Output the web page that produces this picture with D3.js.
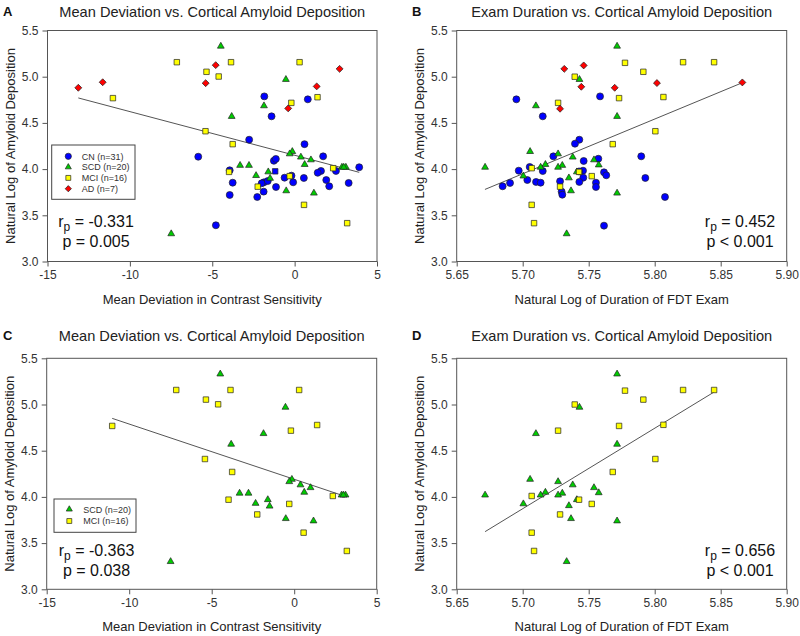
<!DOCTYPE html>
<html>
<head>
<meta charset="utf-8">
<script src="https://cdn.jsdelivr.net/npm/d3@7/dist/d3.min.js"></script>
<style>
html,body{margin:0;padding:0;background:#fff;}
svg{display:block;}
text{font-family:"Liberation Sans",Arial,sans-serif;}
</style>
</head>
<body>
<svg id="chart" width="800" height="636"></svg>
<script>
// ---------- DATA ----------
const groups = ["CN (n=31)", "SCD (n=20)", "MCI (n=16)", "AD (n=7)"];
const yTicks = [3.0, 3.5, 4.0, 4.5, 5.0, 5.5];
const mdTicks = [-15, -10, -5, 0, 5];
const durTicks = [5.65, 5.70, 5.75, 5.80, 5.85, 5.90];

// Mean deviation (x) vs ln amyloid (y)
const cnMD = [[-1.84,4.787],[-1.40,4.571],[0.80,4.755],[-2.76,4.318],[0.60,4.27],[1.73,4.138],
  [-1.26,4.09],[-1.14,4.11],[-5.85,4.134],[3.92,4.02],[-3.94,3.987],[1.60,3.98],[1.40,3.96],
  [2.51,3.98],[-0.61,3.907],[-0.19,3.929],[0.56,3.904],[-3.76,3.853],[-1.86,3.857],
  [-2.0,3.846],[-1.63,3.871],[-1.13,3.806],[-0.09,3.857],[1.92,3.882],[2.10,3.814],[3.28,3.85],
  [-3.94,3.72],[-2.27,3.698],[-1.88,3.756],[-4.78,3.392]];
const cnMDSquare = [[-1.18,3.976]];
const scdMD = [[-4.48,5.33],[-0.53,4.97],[-1.86,4.685],[-3.82,4.57],[-0.14,4.19],[-0.30,4.165],
  [0.38,4.13],[0.99,4.10],[-3.31,4.04],[-2.77,4.04],[0.61,4.05],[2.87,4.02],[3.11,4.02],[2.98,4.02],
  [-1.60,3.97],[-2.34,3.93],[-1.49,3.90],[-0.51,3.765],[1.17,3.74],[-7.49,3.30]];
const mciMD = [[-7.15,5.157],[-3.86,5.157],[0.30,5.157],[-5.35,5.053],[-4.61,5.002],[-11.03,4.768],
  [1.39,4.778],[-0.20,4.717],[-5.41,4.41],[-3.76,4.27],[-3.98,3.97],[2.34,4.01],[-0.30,3.924],
  [-2.24,3.81],[0.57,3.613],[3.19,3.415]];
const adMD = [[-13.13,4.88],[-11.65,4.94],[-5.40,4.93],[-4.79,5.125],[-0.39,4.657],[1.34,4.895],[2.73,5.085]];

// ln duration of FDT exam (x) vs ln amyloid (y)
const cnDur = [[5.6952,4.755],[5.7152,4.571],[5.7429,4.318],[5.7396,4.275],[5.7232,4.138],[5.7462,4.088],
  [5.7586,4.787],[5.7898,4.138],[5.7573,4.112],[5.6970,3.983],[5.7053,4.023],[5.7152,3.979],
  [5.7457,3.983],[5.7427,3.975],[5.7616,3.965],[5.7633,3.933],[5.6848,3.814],[5.6904,3.85],[5.7035,3.882],
  [5.7101,3.861],[5.7136,3.853],[5.7283,3.868],[5.7459,3.907],[5.7429,3.861],[5.7555,3.853],
  [5.7555,3.806],[5.7295,3.756],[5.7300,3.723],[5.7616,3.388],[5.7929,3.904],[5.8078,3.698]];
const scdDur = [[5.7715,5.33],[5.743,4.97],[5.710,4.685],[5.7715,4.57],[5.7056,4.19],[5.7268,4.165],
  [5.7379,4.13],[5.754,4.10],[5.7576,4.045],[5.7172,4.05],[5.7136,4.02],[5.730,4.04],[5.7268,4.02],
  [5.6715,4.02],[5.741,3.97],[5.735,3.905],[5.7005,3.925],[5.7366,3.765],[5.7715,3.74],[5.7333,3.30]];
const mciDur = [[5.8215,5.157],[5.845,5.157],[5.7775,5.15],[5.7914,5.053],[5.7394,5.0],[5.773,4.768],
  [5.8066,4.78],[5.7268,4.717],[5.8005,4.41],[5.7682,4.27],[5.7427,3.97],[5.7068,4.01],[5.7523,3.924],
  [5.7283,3.81],[5.7068,3.613],[5.7086,3.415]];
const adDur = [[5.7315,5.085],[5.7462,5.122],[5.7444,4.891],[5.7283,4.653],[5.7697,4.88],[5.8017,4.931],[5.8664,4.938]];

// regression lines (end points)
const fitA = [[-13.13,4.77],[3.92,3.965]];
const fitB = [[5.6714,3.78],[5.8664,4.935]];
const fitC = [[-11.03,4.85],[3.19,4.0]];
const fitD = [[5.6715,3.624],[5.845,5.135]];

const statsA = ["-0.331", "p = 0.005"];
const statsB = ["0.452", "p < 0.001"];
const statsC = ["-0.363", "p = 0.038"];
const statsD = ["0.656", "p < 0.001"];

// ---------- STYLE ----------
const styles = {
  CN:  {fill:"#0000ff", sym:d3.symbolCircle, size:38},
  CNs: {fill:"#0000ff", sym:d3.symbolSquare, size:30},
  SCD: {fill:"#00cc00", sym:d3.symbolTriangle, size:20},
  MCI: {fill:"#ffff00", sym:d3.symbolSquare, size:30},
  AD:  {fill:"#ff0000", sym:d3.symbolSquare, size:24, rot:45}
};

const svg = d3.select("#chart");
svg.append("rect").attr("width",800).attr("height",636).attr("fill","#fff");

const fmtNum = d => (d < 0 ? "-" : "") + Math.abs(d).toString();

function panel(p) {
  const x = d3.scaleLinear().domain(p.xDomain).range([p.left, p.right]);
  const y = d3.scaleLinear().domain([3.0, 5.5]).range([p.bottom, p.top]);
  const g = svg.append("g");

  // axes
  const ax = g.append("g").attr("transform", `translate(0,${p.bottom})`)
    .call(d3.axisBottom(x).tickValues(p.xTicks).tickFormat(p.xFmt).tickSize(5).tickSizeOuter(0).tickPadding(4));
  const ay = g.append("g").attr("transform", `translate(${p.left},0)`)
    .call(d3.axisLeft(y).tickValues(yTicks).tickFormat(d3.format(".1f")).tickSize(5).tickSizeOuter(0).tickPadding(4));
  [ax, ay].forEach(a => {
    a.select(".domain").remove();
    a.selectAll("line").attr("stroke", "#555");
    a.selectAll("text").attr("fill", "#333").style("font-size", "12px")
      .style("font-family", '"Liberation Sans",Arial,sans-serif');
  });

  // frame
  g.append("rect").attr("x", p.left).attr("y", p.top)
    .attr("width", p.right - p.left).attr("height", p.bottom - p.top)
    .attr("fill", "none").attr("stroke", "#555").attr("stroke-width", 1);

  // regression line
  g.append("path").datum(p.fit)
    .attr("d", d3.line().x(d => x(d[0])).y(d => y(d[1])))
    .attr("fill", "none").attr("stroke", "#555").attr("stroke-width", 1);

  // points
  p.series.forEach(s => {
    const st = styles[s.key];
    g.append("g").selectAll("path").data(s.data).join("path")
      .attr("d", d3.symbol().type(st.sym).size(st.size))
      .attr("transform", d => `translate(${x(d[0])},${y(d[1])})` + (st.rot ? ` rotate(${st.rot})` : ""))
      .attr("fill", st.fill).attr("stroke", "#222").attr("stroke-width", 0.7);
  });

  // title, panel letter, axis labels
  g.append("text").attr("x", (p.left + p.right) / 2).attr("y", p.top - p.titleDy)
    .attr("text-anchor", "middle").attr("fill", "#222").style("font-size", "14.6px").text(p.title);
  g.append("text").attr("x", p.letterX).attr("y", p.top - p.titleDy - 1)
    .attr("fill", "#111").style("font-size", "13px").style("font-weight", "bold").text(p.letter);
  g.append("text").attr("x", (p.left + p.right) / 2).attr("y", p.bottom + 42)
    .attr("text-anchor", "middle").attr("fill", "#222").style("font-size", "13px").text(p.xLabel);
  g.append("text")
    .attr("transform", `translate(${p.left - 33},${(p.top + p.bottom) / 2}) rotate(-90)`)
    .attr("text-anchor", "middle").attr("fill", "#222").style("font-size", "13px")
    .text("Natural Log of Amyloid Deposition");

  // stats
  const t1 = g.append("text").attr("x", p.statX).attr("y", p.statY)
    .attr("text-anchor", "middle").attr("fill", "#111").style("font-size", "16px");
  t1.append("tspan").text("r");
  t1.append("tspan").attr("dy", 4).style("font-size", "12px").text("p");
  t1.append("tspan").attr("dy", -4).text(" = " + p.stats[0]);
  g.append("text").attr("x", p.statX).attr("y", p.statY + 20)
    .attr("text-anchor", "middle").attr("fill", "#111").style("font-size", "16px").text(p.stats[1]);

  // legend
  if (p.legend) {
    const L = p.legend;
    g.append("rect").attr("x", L.x).attr("y", L.y).attr("width", L.w).attr("height", L.h)
      .attr("fill", "#fff").attr("stroke", "#444").attr("stroke-width", 1);
    L.items.forEach((it, i) => {
      const st = styles[it.key];
      const cy = L.y0 + i * L.dy;
      g.append("path").attr("d", d3.symbol().type(st.sym).size(st.size * 0.8))
        .attr("transform", `translate(${L.mx},${cy})` + (st.rot ? ` rotate(${st.rot})` : ""))
        .attr("fill", st.fill).attr("stroke", "#222").attr("stroke-width", 0.7);
      g.append("text").attr("x", L.tx).attr("y", cy + 3.3).attr("fill", "#333")
        .style("font-size", "9px").text(it.label);
    });
  }
}

const mdFmt = d => fmtNum(d);
const durFmt = d3.format(".2f");

panel({letter:"A", letterX:3, left:47.5, right:377, top:30.5, bottom:261.5, titleDy:14,
  xDomain:[-15,5], xTicks:mdTicks, xFmt:mdFmt,
  title:"Mean Deviation vs. Cortical Amyloid Deposition",
  xLabel:"Mean Deviation in Contrast Sensitivity",
  series:[{key:"CN",data:cnMD},{key:"CNs",data:cnMDSquare},{key:"SCD",data:scdMD},{key:"MCI",data:mciMD},{key:"AD",data:adMD}],
  fit:fitA, stats:statsA, statX:96, statY:227,
  legend:{x:51.7,y:145,w:83.3,h:54.3,y0:156.3,dy:10.8,mx:68.3,tx:81.7,
    items:[{key:"CN",label:groups[0]},{key:"SCD",label:groups[1]},{key:"MCI",label:groups[2]},{key:"AD",label:groups[3]}]}
});
panel({letter:"B", letterX:412, left:456.7, right:786.7, top:30.5, bottom:261.5, titleDy:14,
  xDomain:[5.65,5.90], xTicks:durTicks, xFmt:durFmt,
  title:"Exam Duration vs. Cortical Amyloid Deposition",
  xLabel:"Natural Log of Duration of FDT Exam",
  series:[{key:"CN",data:cnDur},{key:"SCD",data:scdDur},{key:"MCI",data:mciDur},{key:"AD",data:adDur}],
  fit:fitB, stats:statsB, statX:740, statY:227
});
panel({letter:"C", letterX:3, left:46.7, right:376.7, top:358.3, bottom:589.3, titleDy:17,
  xDomain:[-15,5], xTicks:mdTicks, xFmt:mdFmt,
  title:"Mean Deviation vs. Cortical Amyloid Deposition",
  xLabel:"Mean Deviation in Contrast Sensitivity",
  series:[{key:"SCD",data:scdMD},{key:"MCI",data:mciMD}],
  fit:fitC, stats:statsC, statX:96.5, statY:556,
  legend:{x:54,y:499,w:82,h:33.3,y0:509.3,dy:11.7,mx:69.3,tx:83.3,
    items:[{key:"SCD",label:groups[1]},{key:"MCI",label:groups[2]}]}
});
panel({letter:"D", letterX:412, left:456.7, right:786.7, top:358.3, bottom:589.3, titleDy:17,
  xDomain:[5.65,5.90], xTicks:durTicks, xFmt:durFmt,
  title:"Exam Duration vs. Cortical Amyloid Deposition",
  xLabel:"Natural Log of Duration of FDT Exam",
  series:[{key:"SCD",data:scdDur},{key:"MCI",data:mciDur}],
  fit:fitD, stats:statsD, statX:740, statY:556
});
</script>
</body>
</html>
